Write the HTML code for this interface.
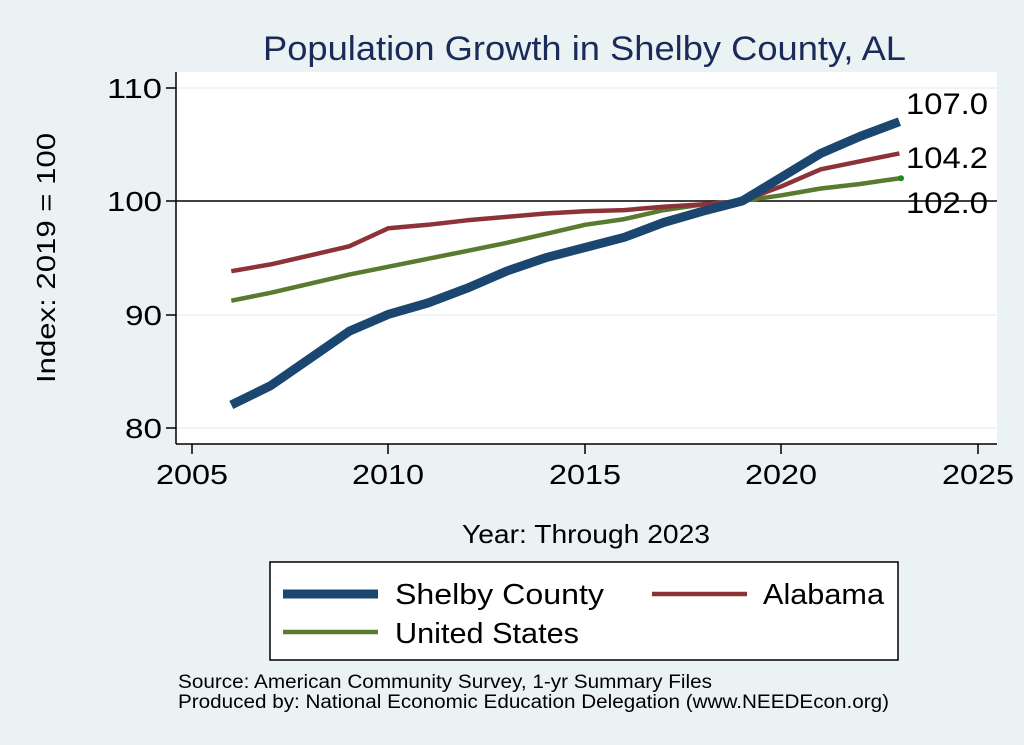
<!DOCTYPE html>
<html><head><meta charset="utf-8"><style>
html,body{margin:0;padding:0;background:#eaf2f3;}
svg{display:block;font-family:"Liberation Sans",Arial,sans-serif;}
</style></head><body>
<svg width="1024" height="745" viewBox="0 0 1024 745" xmlns="http://www.w3.org/2000/svg">
<rect x="0" y="0" width="1024" height="745" fill="#eaf2f3"/>
<text x="263" y="60" font-size="34" fill="#1a2b5a" textLength="643" lengthAdjust="spacingAndGlyphs">Population Growth in Shelby County, AL</text>
<rect x="176" y="72" width="821" height="372" fill="#fff"/>
<g stroke="#eaf2f3" stroke-width="1.5">
<line x1="176" y1="88" x2="997" y2="88"/>
<line x1="176" y1="315" x2="997" y2="315"/>
<line x1="176" y1="428" x2="997" y2="428"/>
</g>
<line x1="176" y1="72" x2="176" y2="444" stroke="#000" stroke-width="1.5"/>
<line x1="176" y1="444" x2="997" y2="444" stroke="#000" stroke-width="1.5"/>
<g stroke="#000" stroke-width="1.5">
<line x1="166" y1="88" x2="176" y2="88"/><line x1="166" y1="201" x2="176" y2="201"/>
<line x1="166" y1="315" x2="176" y2="315"/><line x1="166" y1="428" x2="176" y2="428"/>
<line x1="192" y1="444" x2="192" y2="454"/><line x1="388" y1="444" x2="388" y2="454"/>
<line x1="585" y1="444" x2="585" y2="454"/><line x1="781" y1="444" x2="781" y2="454"/>
<line x1="978" y1="444" x2="978" y2="454"/>
</g>
<g font-size="28" fill="#000" text-anchor="end">
<text x="162" y="98" textLength="55" lengthAdjust="spacingAndGlyphs">110</text>
<text x="162" y="211" textLength="55" lengthAdjust="spacingAndGlyphs">100</text>
<text x="162" y="325" textLength="37" lengthAdjust="spacingAndGlyphs">90</text>
<text x="162" y="438" textLength="37" lengthAdjust="spacingAndGlyphs">80</text>
</g>
<g font-size="28" fill="#000" text-anchor="middle">
<text x="192" y="484" textLength="72" lengthAdjust="spacingAndGlyphs">2005</text>
<text x="388" y="484" textLength="72" lengthAdjust="spacingAndGlyphs">2010</text>
<text x="585" y="484" textLength="72" lengthAdjust="spacingAndGlyphs">2015</text>
<text x="781" y="484" textLength="72" lengthAdjust="spacingAndGlyphs">2020</text>
<text x="978" y="484" textLength="72" lengthAdjust="spacingAndGlyphs">2025</text>
</g>
<text x="462" y="543" font-size="26" textLength="248" lengthAdjust="spacingAndGlyphs">Year: Through 2023</text>
<text transform="translate(55,383) rotate(-90)" font-size="26" textLength="250" lengthAdjust="spacingAndGlyphs">Index: 2019 = 100</text>
<line x1="176" y1="201" x2="997" y2="201" stroke="#000" stroke-width="1.5"/>
<polyline fill="none" stroke="#5a7a2f" stroke-width="4.5" stroke-linejoin="round" points="231.3,300.7 270.6,292.8 309.9,283.7 349.2,274.6 388.5,266.7 427.8,258.8 467.1,250.9 506.4,242.9 545.7,233.9 585,224.8 624.3,219.1 663.6,210.1 702.9,204.4 742.2,201 781.5,195.3 820.8,188.5 860.1,184 899.4,178.3"/>
<polyline fill="none" stroke="#8d3338" stroke-width="4.5" stroke-linejoin="round" points="231.3,271.2 270.6,264.4 309.9,255.4 349.2,246.3 388.5,228.2 427.8,224.8 467.1,220.3 506.4,216.9 545.7,213.5 585,211.2 624.3,210.1 663.6,206.7 702.9,204.4 742.2,201 781.5,186.3 820.8,169.3 860.1,161.3 899.4,153.4"/>
<polyline fill="none" stroke="#1a4670" stroke-width="9" stroke-linejoin="round" points="231.3,404.9 270.6,385.7 309.9,358.5 349.2,331.3 388.5,314.3 427.8,303 467.1,288.2 506.4,271.2 545.7,257.7 585,247.5 624.3,237.3 663.6,222.5 702.9,211.2 742.2,201 781.5,177.2 820.8,153.4 860.1,136.4 899.4,121.7"/>
<circle cx="901" cy="178.3" r="3" fill="#1a8a1a"/>
<g font-size="30" fill="#000">
<text x="906" y="114" textLength="82" lengthAdjust="spacingAndGlyphs">107.0</text>
<text x="906" y="168" textLength="82" lengthAdjust="spacingAndGlyphs">104.2</text>
<text x="906" y="213" textLength="82" lengthAdjust="spacingAndGlyphs">102.0</text>
</g>
<rect x="270" y="562" width="628" height="98" fill="#fff" stroke="#000" stroke-width="1.5"/>
<line x1="283" y1="594" x2="378" y2="594" stroke="#1a4670" stroke-width="9"/>
<text x="395" y="604" font-size="29" textLength="209" lengthAdjust="spacingAndGlyphs">Shelby  County</text>
<line x1="652" y1="594" x2="747" y2="594" stroke="#8d3338" stroke-width="4.5"/>
<text x="763" y="604" font-size="29" textLength="121" lengthAdjust="spacingAndGlyphs">Alabama</text>
<line x1="283" y1="632" x2="378" y2="632" stroke="#5a7a2f" stroke-width="4.5"/>
<text x="395" y="643" font-size="29" textLength="184" lengthAdjust="spacingAndGlyphs">United States</text>
<text x="178" y="688" font-size="19" textLength="534" lengthAdjust="spacingAndGlyphs">Source: American Community Survey, 1-yr Summary Files</text>
<text x="178" y="708" font-size="19" textLength="711" lengthAdjust="spacingAndGlyphs">Produced by: National Economic Education Delegation (www.NEEDEcon.org)</text>
</svg>
</body></html>
